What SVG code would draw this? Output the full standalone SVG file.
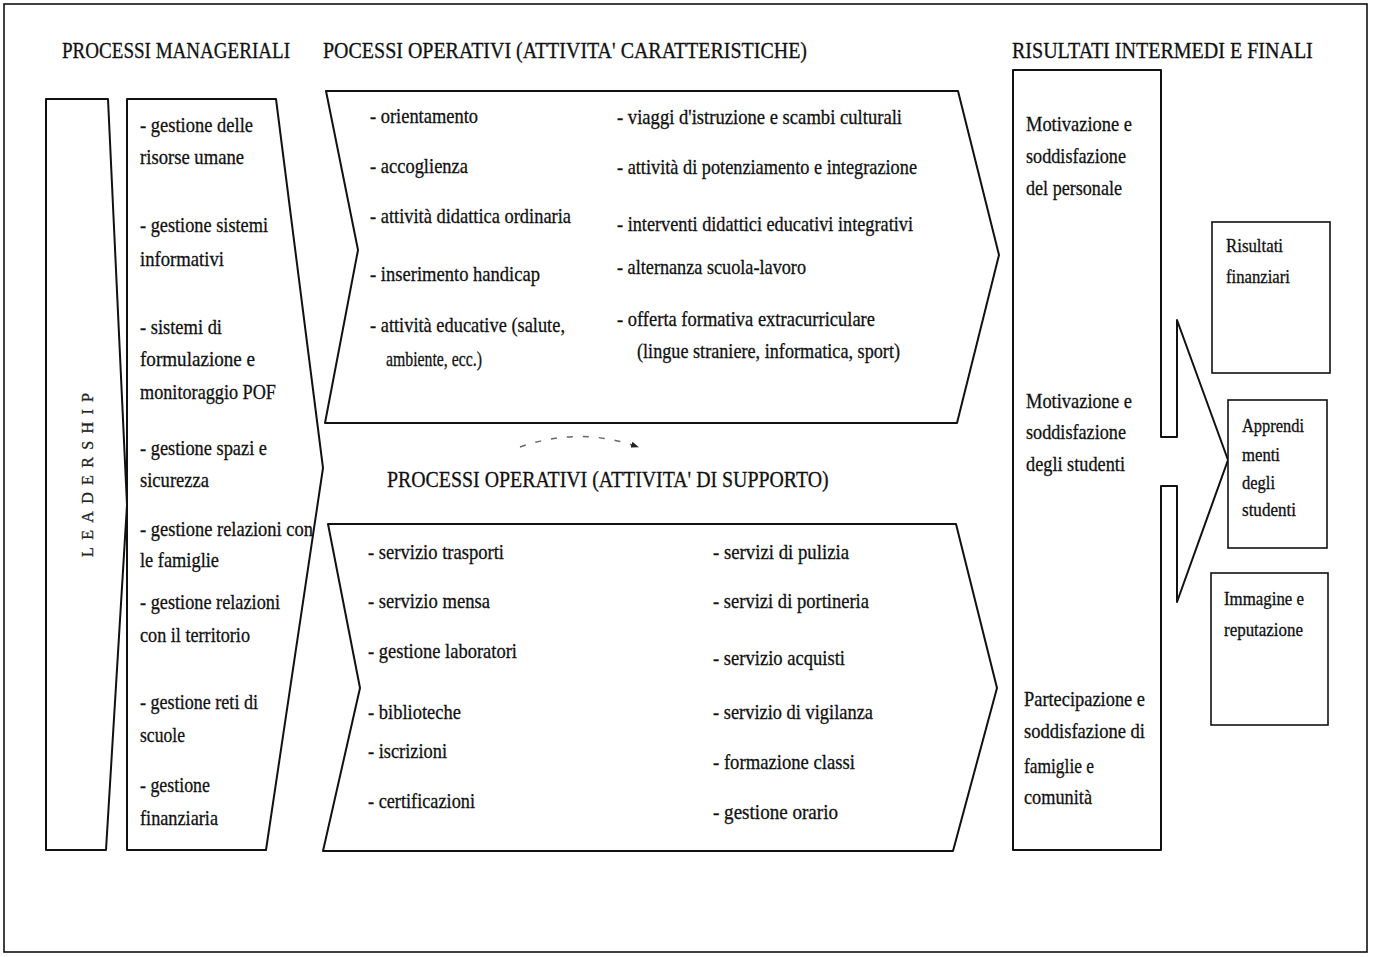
<svg xmlns="http://www.w3.org/2000/svg" width="1375" height="957" viewBox="0 0 1375 957">
<defs>
<style>
.t{font-family:"Liberation Serif","Times New Roman",serif;font-size:21px;fill:#111;stroke:#111;stroke-width:0.3}
.s{font-family:"Liberation Serif","Times New Roman",serif;font-size:18px;fill:#111;stroke:#111;stroke-width:0.3}
.h{font-family:"Liberation Serif","Times New Roman",serif;font-size:24px;fill:#111;stroke:#111;stroke-width:0.3}
.box{fill:#fff;stroke:#111;stroke-width:2;stroke-linejoin:round}
.thin{fill:#fff;stroke:#111;stroke-width:1.6}
</style>
<marker id="ah" markerWidth="8" markerHeight="6" refX="7" refY="3" orient="auto" markerUnits="userSpaceOnUse">
<path d="M0,0 L8,3 L0,6 Z" fill="#222"/>
</marker>
</defs>
<rect x="0" y="0" width="1375" height="957" fill="#fff"/>
<rect id="frame" x="4" y="4" width="1363" height="948" fill="none" stroke="#111" stroke-width="1.6"/>

<g id="titles">
<text class="h" transform="translate(62,58) scale(0.8,1)" x="0" y="0" textLength="285" lengthAdjust="spacingAndGlyphs">PROCESSI MANAGERIALI</text>
<text class="h" transform="translate(323,58) scale(0.8,1)" x="0" y="0" textLength="605" lengthAdjust="spacingAndGlyphs">POCESSI OPERATIVI (ATTIVITA' CARATTERISTICHE)</text>
<text class="h" transform="translate(1012,58) scale(0.8,1)" x="0" y="0" textLength="376" lengthAdjust="spacingAndGlyphs">RISULTATI INTERMEDI E FINALI</text>
<text class="h" transform="translate(387,487) scale(0.8,1)" x="0" y="0" textLength="552" lengthAdjust="spacingAndGlyphs">PROCESSI OPERATIVI (ATTIVITA' DI SUPPORTO)</text>
</g>

<g id="leadership">
<path class="box" d="M46,99 L108,99 L127,505 L106,850 L46,850 Z"/>
<text transform="translate(93,475) rotate(-90)" text-anchor="middle" font-family="Liberation Serif, serif" font-size="16" fill="#222" stroke="#222" stroke-width="0.3" textLength="164" lengthAdjust="spacing">LEADERSHIP</text>
</g>

<g id="managerial">
<path class="box" d="M127,99 L276,99 L323,468 L266,850 L127,850 Z"/>
<text class="t" x="140" y="132" textLength="113" lengthAdjust="spacingAndGlyphs">- gestione delle</text>
<text class="t" x="140" y="164" textLength="104" lengthAdjust="spacingAndGlyphs">risorse umane</text>
<text class="t" x="140" y="232" textLength="128" lengthAdjust="spacingAndGlyphs">- gestione sistemi</text>
<text class="t" x="140" y="266" textLength="84" lengthAdjust="spacingAndGlyphs">informativi</text>
<text class="t" x="140" y="334" textLength="82" lengthAdjust="spacingAndGlyphs">- sistemi di</text>
<text class="t" x="140" y="366" textLength="115" lengthAdjust="spacingAndGlyphs">formulazione e</text>
<text class="t" x="140" y="399" textLength="136" lengthAdjust="spacingAndGlyphs">monitoraggio POF</text>
<text class="t" x="140" y="455" textLength="127" lengthAdjust="spacingAndGlyphs">- gestione spazi e</text>
<text class="t" x="140" y="487" textLength="69" lengthAdjust="spacingAndGlyphs">sicurezza</text>
<text class="t" x="140" y="536" textLength="173" lengthAdjust="spacingAndGlyphs">- gestione relazioni con</text>
<text class="t" x="140" y="567" textLength="79" lengthAdjust="spacingAndGlyphs">le famiglie</text>
<text class="t" x="140" y="609" textLength="140" lengthAdjust="spacingAndGlyphs">- gestione relazioni</text>
<text class="t" x="140" y="642" textLength="110" lengthAdjust="spacingAndGlyphs">con il territorio</text>
<text class="t" x="140" y="709" textLength="118" lengthAdjust="spacingAndGlyphs">- gestione reti di</text>
<text class="t" x="140" y="742" textLength="45" lengthAdjust="spacingAndGlyphs">scuole</text>
<text class="t" x="140" y="792" textLength="70" lengthAdjust="spacingAndGlyphs">- gestione</text>
<text class="t" x="140" y="825" textLength="78" lengthAdjust="spacingAndGlyphs">finanziaria</text>
</g>

<g id="caratteristiche">
<path class="box" d="M326,91 L958,91 L999,255 L957,423 L325,423 L358,250 Z"/>
<text class="t" x="370" y="123" textLength="108" lengthAdjust="spacingAndGlyphs">- orientamento</text>
<text class="t" x="370" y="173" textLength="98" lengthAdjust="spacingAndGlyphs">- accoglienza</text>
<text class="t" x="370" y="223" textLength="201" lengthAdjust="spacingAndGlyphs">- attività didattica ordinaria</text>
<text class="t" x="370" y="281" textLength="170" lengthAdjust="spacingAndGlyphs">- inserimento handicap</text>
<text class="t" x="370" y="332" textLength="195" lengthAdjust="spacingAndGlyphs">- attività educative (salute,</text>
<text class="t" x="386" y="366" textLength="96" lengthAdjust="spacingAndGlyphs">ambiente, ecc.)</text>
<text class="t" x="617" y="124" textLength="285" lengthAdjust="spacingAndGlyphs">- viaggi d'istruzione e scambi culturali</text>
<text class="t" x="617" y="174" textLength="300" lengthAdjust="spacingAndGlyphs">- attività di potenziamento e integrazione</text>
<text class="t" x="617" y="231" textLength="296" lengthAdjust="spacingAndGlyphs">- interventi didattici educativi integrativi</text>
<text class="t" x="617" y="274" textLength="189" lengthAdjust="spacingAndGlyphs">- alternanza scuola-lavoro</text>
<text class="t" x="617" y="326" textLength="258" lengthAdjust="spacingAndGlyphs">- offerta formativa extracurriculare</text>
<text class="t" x="637" y="358" textLength="263" lengthAdjust="spacingAndGlyphs">(lingue straniere, informatica, sport)</text>
</g>

<g id="supporto">
<path class="box" d="M328,524 L956,524 L997,688 L953,851 L323,851 L360,688 Z"/>
<text class="t" x="368" y="559" textLength="136" lengthAdjust="spacingAndGlyphs">- servizio trasporti</text>
<text class="t" x="368" y="608" textLength="122" lengthAdjust="spacingAndGlyphs">- servizio mensa</text>
<text class="t" x="368" y="658" textLength="149" lengthAdjust="spacingAndGlyphs">- gestione laboratori</text>
<text class="t" x="368" y="719" textLength="93" lengthAdjust="spacingAndGlyphs">- biblioteche</text>
<text class="t" x="368" y="758" textLength="79" lengthAdjust="spacingAndGlyphs">- iscrizioni</text>
<text class="t" x="368" y="808" textLength="107" lengthAdjust="spacingAndGlyphs">- certificazioni</text>
<text class="t" x="713" y="559" textLength="136" lengthAdjust="spacingAndGlyphs">- servizi di pulizia</text>
<text class="t" x="713" y="608" textLength="156" lengthAdjust="spacingAndGlyphs">- servizi di portineria</text>
<text class="t" x="713" y="665" textLength="132" lengthAdjust="spacingAndGlyphs">- servizio acquisti</text>
<text class="t" x="713" y="719" textLength="160" lengthAdjust="spacingAndGlyphs">- servizio di vigilanza</text>
<text class="t" x="713" y="769" textLength="142" lengthAdjust="spacingAndGlyphs">- formazione classi</text>
<text class="t" x="713" y="819" textLength="125" lengthAdjust="spacingAndGlyphs">- gestione orario</text>
</g>

<g id="risultati-intermedi">
<path class="box" d="M1013,70 L1161,70 L1161,437 L1177,437 L1177,320 L1228,460 L1177,602 L1177,486 L1161,486 L1161,850 L1013,850 Z"/>
<text class="t" x="1026" y="131" textLength="106" lengthAdjust="spacingAndGlyphs">Motivazione e</text>
<text class="t" x="1026" y="163" textLength="100" lengthAdjust="spacingAndGlyphs">soddisfazione</text>
<text class="t" x="1026" y="195" textLength="96" lengthAdjust="spacingAndGlyphs">del personale</text>
<text class="t" x="1026" y="408" textLength="106" lengthAdjust="spacingAndGlyphs">Motivazione e</text>
<text class="t" x="1026" y="439" textLength="100" lengthAdjust="spacingAndGlyphs">soddisfazione</text>
<text class="t" x="1026" y="471" textLength="99" lengthAdjust="spacingAndGlyphs">degli studenti</text>
<text class="t" x="1024" y="706" textLength="121" lengthAdjust="spacingAndGlyphs">Partecipazione e</text>
<text class="t" x="1024" y="738" textLength="121" lengthAdjust="spacingAndGlyphs">soddisfazione di</text>
<text class="t" x="1024" y="773" textLength="70" lengthAdjust="spacingAndGlyphs">famiglie e</text>
<text class="t" x="1024" y="804" textLength="68" lengthAdjust="spacingAndGlyphs">comunità</text>
</g>

<g id="risultati-finanziari">
<rect class="thin" x="1212" y="222" width="118" height="151"/>
<text class="s" x="1226" y="252" textLength="57" lengthAdjust="spacingAndGlyphs">Risultati</text>
<text class="s" x="1226" y="283" textLength="64" lengthAdjust="spacingAndGlyphs">finanziari</text>
</g>

<g id="apprendimenti">
<rect class="thin" x="1228" y="400" width="99" height="148"/>
<text class="s" x="1242" y="432" textLength="62" lengthAdjust="spacingAndGlyphs">Apprendi</text>
<text class="s" x="1242" y="461" textLength="38" lengthAdjust="spacingAndGlyphs">menti</text>
<text class="s" x="1242" y="489" textLength="33" lengthAdjust="spacingAndGlyphs">degli</text>
<text class="s" x="1242" y="516" textLength="54" lengthAdjust="spacingAndGlyphs">studenti</text>
</g>

<g id="immagine">
<rect class="thin" x="1211" y="573" width="117" height="152"/>
<text class="s" x="1224" y="605" textLength="80" lengthAdjust="spacingAndGlyphs">Immagine e</text>
<text class="s" x="1224" y="636" textLength="79" lengthAdjust="spacingAndGlyphs">reputazione</text>
</g>

<g id="connectors">
<path d="M520,447 Q580,426 638,447" fill="none" stroke="#666" stroke-width="1.5" stroke-dasharray="6,10" marker-end="url(#ah)"/>
</g>
</svg>
